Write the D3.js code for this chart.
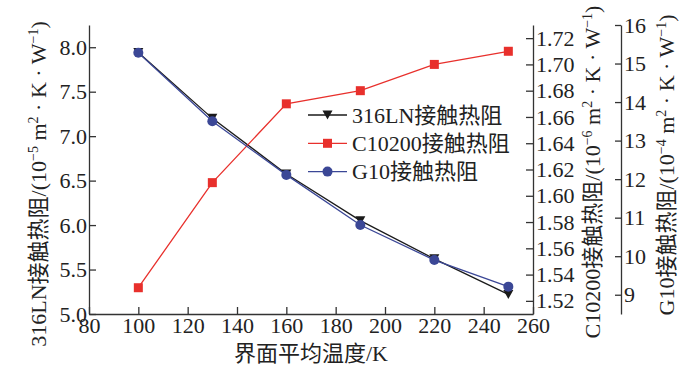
<!DOCTYPE html>
<html>
<head>
<meta charset="utf-8">
<script src="https://cdn.jsdelivr.net/npm/d3@7"></script>
<style>
  body { margin: 0; background: #fff; }
  svg text { font-family: "Liberation Serif", "Noto Sans CJK SC", serif; fill: #222; }
</style>
</head>
<body>
<div id="chart"></div>
<script>
(function() {
	// data
	var temps = [100, 130, 160, 190, 220, 250];
	var ln316 = [7.94, 7.20, 6.575, 6.05, 5.62, 5.22];
	var c10200 = [1.530, 1.610, 1.670, 1.680, 1.700, 1.710];
	var g10 = [15.28, 13.50, 12.11, 10.81, 9.90, 9.21];

	var xTicks = [80, 100, 120, 140, 160, 180, 200, 220, 240, 260];
	var leftTicks = [5.0, 5.5, 6.0, 6.5, 7.0, 7.5, 8.0];
	var cTicks = [1.52, 1.54, 1.56, 1.58, 1.60, 1.62, 1.64, 1.66, 1.68, 1.70, 1.72];
	var gTicks = [9, 10, 11, 12, 13, 14, 15, 16];

	var seriesNames = ["316LN接触热阻", "C10200接触热阻", "G10接触热阻"];
	var colors = ["#1a1a1a", "#e8302c", "#3b4796"];

	var W = 700, H = 370;
	var left = 89, right = 533, top = 25, bottom = 314;
	var gAxisX = 621;

	var svg = d3.select("#chart").append("svg")
		.attr("width", W)
		.attr("height", H);

	var x = d3.scaleLinear().domain([80, 260]).range([left, right]);
	var yL = d3.scaleLinear().domain([5, 8.25]).range([bottom, top]);
	var yC = d3.scaleLinear().domain([1.51, 1.73]).range([bottom, top]);
	var yG = d3.scaleLinear().domain([8.5, 16]).range([bottom, top]);

	function styleAxis(g) {
		g.selectAll("path").attr("stroke", "#333").attr("stroke-width", 1.3);
		g.selectAll("line").attr("stroke", "#333").attr("stroke-width", 1.3);
		g.selectAll("text").attr("font-size", 22).attr("fill", "#222")
			.attr("font-family", "Liberation Serif, serif");
	}

	svg.append("g")
		.attr("transform", "translate(0," + bottom + ")")
		.call(d3.axisBottom(x).tickValues(xTicks).tickSizeInner(-7).tickSizeOuter(0).tickPadding(3)
			.tickFormat(d3.format("d")))
		.call(styleAxis);

	svg.append("g")
		.attr("transform", "translate(" + left + ",0)")
		.call(d3.axisLeft(yL).tickValues(leftTicks).tickSizeInner(-7).tickSizeOuter(0).tickPadding(2)
			.tickFormat(d3.format(".1f")))
		.call(styleAxis);

	svg.append("g")
		.attr("transform", "translate(" + right + ",0)")
		.call(d3.axisRight(yC).tickValues(cTicks).tickSizeInner(-7).tickSizeOuter(0).tickPadding(3)
			.tickFormat(d3.format(".2f")))
		.call(styleAxis);

	svg.append("g")
		.attr("transform", "translate(" + gAxisX + ",0)")
		.call(d3.axisRight(yG).tickValues(gTicks).tickSizeInner(-6).tickSizeOuter(0).tickPadding(3)
			.tickFormat(d3.format("d")))
		.call(styleAxis);

	// series lines and markers
	var series = [
		{ vals: ln316, y: yL, sym: "tri" },
		{ vals: c10200, y: yC, sym: "sq" },
		{ vals: g10, y: yG, sym: "circ" }
	];

	function drawMarker(sel, sym, color) {
		if (sym === "tri") {
			sel.append("path").attr("d", "M-5,-4.5L5,-4.5L0,4.5Z").attr("fill", color);
		} else if (sym === "sq") {
			sel.append("rect").attr("x", -4.5).attr("y", -4.5).attr("width", 9).attr("height", 9).attr("fill", color);
		} else {
			sel.append("circle").attr("r", 5).attr("fill", color);
		}
	}

	series.forEach(function(s, i) {
		var pts = temps.map(function(t, j) { return [x(t), s.y(s.vals[j])]; });
		svg.append("path")
			.attr("d", d3.line()(pts))
			.attr("fill", "none")
			.attr("stroke", colors[i])
			.attr("stroke-width", 1.3);
		pts.forEach(function(p) {
			var m = svg.append("g").attr("transform", "translate(" + p[0] + "," + p[1] + ")");
			drawMarker(m, s.sym, colors[i]);
		});
	});

	// legend
	var legend = svg.append("g").attr("transform", "translate(308,115)");
	seriesNames.forEach(function(name, i) {
		var row = legend.append("g").attr("transform", "translate(0," + (i * 28.3) + ")");
		row.append("line").attr("x1", 0).attr("x2", 39).attr("y1", 0).attr("y2", 0)
			.attr("stroke", colors[i]).attr("stroke-width", 1.3);
		var m = row.append("g").attr("transform", "translate(19.5,0)");
		drawMarker(m, series[i].sym, colors[i]);
		row.append("text").attr("x", 44).attr("y", 7.5).attr("font-size", 22).text(name);
	});

	// axis titles
	function unitTitle(cx, cy, head, exp) {
		var t = svg.append("text")
			.attr("transform", "translate(" + cx + "," + cy + ") rotate(-90)")
			.attr("text-anchor", "middle")
			.attr("dy", "0.35em")
			.attr("font-size", 22);
		t.append("tspan").text(head + "/(10");
		t.append("tspan").attr("dy", -8).attr("font-size", 14).text("−" + exp);
		t.append("tspan").attr("dy", 8).text(" m");
		t.append("tspan").attr("dy", -8).attr("font-size", 14).text("2");
		t.append("tspan").attr("dy", 8).text(" · K · W");
		t.append("tspan").attr("dy", -8).attr("font-size", 14).text("−1");
		t.append("tspan").attr("dy", 8).text(")");
	}
	unitTitle(38, 184, "316LN接触热阻", "5");
	unitTitle(592, 172, "C10200接触热阻", "6");
	unitTitle(666, 165, "G10接触热阻", "4");

	svg.append("text")
		.attr("x", (left + right) / 2)
		.attr("y", 361)
		.attr("text-anchor", "middle")
		.attr("font-size", 22)
		.text("界面平均温度/K");
})();
</script>
</body>
</html>
